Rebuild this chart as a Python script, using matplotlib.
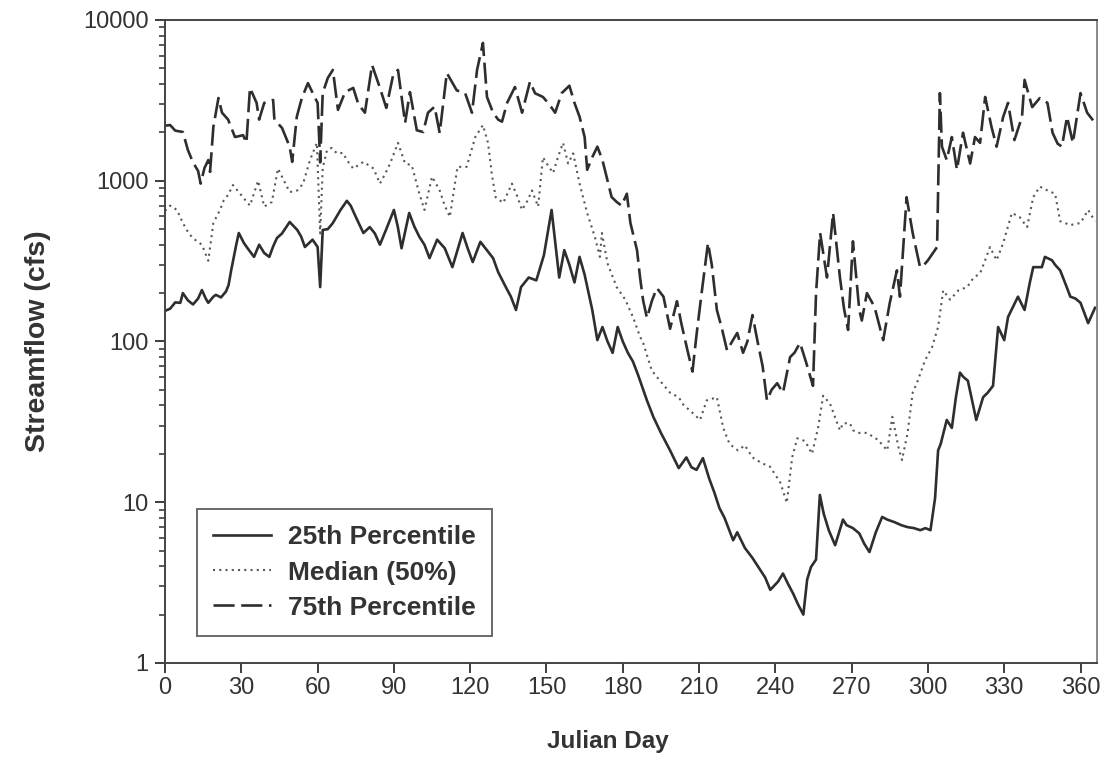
import numpy as np
import matplotlib
matplotlib.use("Agg")
import matplotlib.pyplot as plt
from matplotlib.ticker import FixedLocator, LogLocator, NullFormatter, FuncFormatter

# daily streamflow percentiles (cfs) by Julian day
days_p25 = [0, 2, 4, 6, 7, 9, 11, 13, 14.5, 16, 17, 19, 20, 22, 24, 25, 26, 28, 29, 31,
            33, 35, 37, 39, 41, 42.5, 44, 46, 49, 52, 53.5, 55, 58, 60, 61, 62, 64, 66, 69, 71.5,
            73, 75, 78, 80.5, 82.5, 84.5, 87, 90, 91.5, 93, 96, 98, 100, 102, 104, 107, 110, 113, 117, 119,
            121, 124, 126, 129, 131, 134, 136, 138, 140, 143, 146, 149, 152, 155, 157, 159, 161, 163, 165, 168,
            170, 172, 174, 176, 178, 180, 182, 184, 186, 189.5, 192, 195, 198.6, 202, 205, 207, 209, 211.5, 214, 216,
            218, 220, 223.4, 225, 228, 231, 234, 236, 238, 241, 243, 245, 247, 249, 251, 252.5, 254, 256, 257.5, 259,
            261, 263.5, 266.6, 268, 270.5, 273, 275, 277, 279.5, 282, 284, 287, 289.5, 292, 294.5, 297, 299, 301, 302.8, 304,
            305, 307.4, 309.4, 311, 312.6, 314, 315.7, 317.5, 319, 321.7, 323.5, 325.6, 327.6, 330, 331.5, 333.5, 335.4, 338, 340, 341.4,
            344.8, 346, 348.8, 350, 352, 354, 356, 358, 360, 363, 365.7]
p25 = [155, 160, 175, 174, 200, 180, 170, 185, 209, 185, 174, 190, 195, 188, 205, 225, 277, 400, 473, 410,
       370, 336, 400, 355, 336, 390, 440, 470, 554, 494, 450, 387, 430, 387, 218, 494, 500, 546, 658, 750,
       700, 596, 473, 515, 470, 400, 500, 658, 520, 380, 630, 520, 448, 400, 330, 430, 380, 290, 473, 380,
       312, 417, 380, 330, 270, 218, 190, 157, 218, 250, 240, 345, 658, 250, 370, 300, 233, 336, 260, 157,
       102, 123, 100, 85, 123, 100, 85, 75, 62, 43, 34, 27, 21, 16.3, 19, 16.5, 15.9, 18.8, 14, 11.5,
       9.2, 8, 5.8, 6.5, 5.2, 4.5, 3.8, 3.4, 2.85, 3.2, 3.6, 3.1, 2.7, 2.3, 2.0, 3.3, 3.95, 4.4, 11.1, 8.5,
       6.7, 5.4, 7.8, 7.2, 6.9, 6.4, 5.5, 4.9, 6.5, 8.1, 7.8, 7.5, 7.2, 7.0, 6.9, 6.7, 6.9, 6.7, 10.6, 21,
       23, 32.5, 29, 45, 64, 60, 57, 42, 32.5, 45, 48, 53, 123, 102, 142, 165, 190, 157, 230, 290,
       290, 336, 320, 300, 277, 230, 190, 185, 174, 130, 162]

days_p50 = [0, 2, 4.7, 7, 9, 10.5, 12.5, 14.5, 17, 19, 21.6, 23, 24.8, 26.7, 29.5, 31.5, 33.4, 36.6, 39, 42,
            44.4, 46, 49, 52, 54.3, 57, 59.7, 61, 62, 63.7, 65.5, 67.6, 70, 71.5, 74, 76, 78, 80, 82, 84.5,
            86.5, 88.5, 91.6, 94.4, 97, 100, 102, 105, 108, 110, 112, 115, 118.6, 122, 125, 127, 128.5, 130, 133, 136.4,
            138.5, 140.4, 142.5, 144.3, 146.7, 148.6, 150.5, 152.6, 154.5, 156.5, 158.5, 160.5, 163, 166, 169, 171, 171.8, 174, 177.6, 181,
            184, 186.8, 188, 191.4, 194.6, 198.6, 202, 204, 206.6, 210.4, 213, 217, 219.5, 222, 225.3, 228, 231, 234.7, 238, 242,
            244.5, 246.6, 248.6, 251.7, 254.4, 256.8, 258.8, 261.5, 265.4, 266.6, 269.3, 270.6, 272.5, 276, 280.4, 284, 286, 288.4, 289.8, 292,
            294, 296, 298.8, 301.6, 304, 306, 308.7, 312, 315.4, 318, 320.5, 322.5, 324.4, 327, 329.6, 333, 336, 339, 341.4, 344,
            347, 350, 352, 356, 360, 363, 365.7]
p50 = [650, 700, 658, 546, 480, 448, 420, 400, 318, 546, 658, 750, 817, 940, 830, 760, 700, 1000, 690, 738,
       1190, 1060, 850, 870, 960, 1345, 1720, 470, 1200, 1550, 1600, 1480, 1490, 1345, 1190, 1250, 1310, 1250, 1190, 960,
       1100, 1280, 1720, 1280, 1250, 830, 658, 1060, 870, 700, 596, 1220, 1220, 1870, 2220, 1720, 1100, 790, 728, 960,
       800, 658, 750, 870, 690, 1400, 1250, 1117, 1400, 1720, 1280, 1480, 960, 630, 448, 336, 473, 306, 218, 182,
       142, 107, 98, 66, 57, 48, 45, 40, 37, 32.5, 43, 45, 29, 23, 21, 22.6, 19, 17.5, 16.6, 13.2,
       9.9, 19, 25, 24, 20, 29, 46, 41, 28, 31, 31, 28, 27, 27, 24.4, 21, 34, 22, 18.3, 27,
       48, 57, 76, 92, 123, 208, 182, 208, 218, 250, 265, 320, 387, 320, 410, 630, 596, 515, 790, 920,
       870, 830, 560, 530, 546, 658, 560]

days_p75 = [0, 2, 4, 7, 9, 11, 13, 14, 15.5, 17, 17.7, 19, 21, 22.4, 24.8, 27.5, 30.7, 32, 33.4, 36,
            37, 39, 42.5, 43, 46, 49, 50, 51.8, 53.8, 56.2, 59, 60, 61, 62, 64, 66, 68, 70.8, 74, 76,
            78.6, 81.4, 84.5, 87, 89.7, 91.6, 94.4, 96.3, 99, 101.5, 103.4, 106, 108, 110.8, 114.7, 118, 120.7, 122.7, 125, 126.6,
            129, 131, 132.5, 134.5, 137.6, 140.4, 143.5, 145.5, 148.6, 151, 153.4, 156, 159, 161, 163, 165, 166, 168, 170, 172,
            174, 175.6, 177.6, 179.5, 181.6, 183, 185.6, 186.8, 188, 189.5, 191.5, 193.4, 196, 198.6, 201.3, 203, 205.3, 207.4, 209, 211,
            213.5, 215, 217, 219, 221, 223, 225, 227.3, 229, 231, 233, 235, 236.7, 238.5, 240.7, 243, 245.8, 247.5, 249.7, 252,
            254.8, 256, 257.6, 260.3, 262.7, 265.4, 267, 268.6, 270.5, 273, 274, 276, 279, 282.4, 285, 287.8, 289, 291.6, 294, 296.9,
            298.5, 300, 303.6, 304.7, 305.5, 307.4, 309.4, 311.4, 313.8, 316.6, 318.5, 320.5, 322.5, 325, 327, 329.6, 331.5, 334, 337, 338,
            341, 344, 347, 349, 351, 352.7, 354.7, 357, 360, 362.6, 365.7]
p75 = [2200, 2220, 2050, 2010, 1550, 1300, 1150, 960, 1200, 1345, 1135, 2160, 3270, 2650, 2400, 1870, 1920, 1720, 3780, 3050,
       2400, 3050, 3180, 2400, 2130, 1630, 1310, 2500, 3270, 4050, 3270, 3050, 1300, 3510, 4360, 4890, 2760, 3560, 3780, 3000,
       2650, 5250, 3780, 2840, 4550, 4890, 2290, 3560, 2060, 2010, 2650, 2890, 1980, 4680, 3650, 3510, 2650, 4890, 7200, 3320,
       2650, 2400, 2330, 3050, 3830, 2650, 4130, 3500, 3320, 3000, 2650, 3510, 3900, 3050, 2500, 1870, 1170, 1400, 1630, 1345,
       1000, 792, 738, 700, 830, 546, 370, 250, 180, 140, 180, 215, 190, 120, 178, 130, 90, 65, 110, 200,
       410, 300, 157, 120, 88, 100, 113, 85, 100, 146, 100, 70, 43, 50, 55, 48, 80, 85, 98, 75,
       53, 200, 473, 250, 630, 250, 160, 118, 420, 157, 135, 200, 164, 102, 174, 277, 190, 790, 473, 290,
       300, 320, 387, 3510, 1630, 1345, 1870, 1170, 1990, 1280, 1870, 1720, 3320, 2160, 1630, 2500, 3050, 1790, 2500, 4240,
       2870, 3270, 3050, 1990, 1700, 1630, 2500, 1720, 3510, 2650, 2290]

y_ticks = [1, 10, 100, 1000, 10000]
x_ticks = list(range(0, 361, 30))

plt.rcParams['font.family'] = ['Liberation Sans', 'DejaVu Sans']
ink = '#2e2e2e'

fig = plt.figure(figsize=(11.04, 7.66), dpi=100)
ax = fig.add_axes([0.1495, 0.1345, 0.8442, 0.8394])

ax.plot(days_p25, p25, color=ink, lw=1.9, solid_joinstyle='round', label='25th Percentile')
ax.plot(days_p50, p50, color='#585858', lw=1.5, linestyle=(0, (1, 2.0)), label='Median (50%)')
ax.plot(days_p75, p75, color=ink, lw=1.9, dashes=(8, 2.5), label='75th Percentile')

ax.set_yscale('log')
ax.set_ylim(1, 10000)
ax.set_xlim(0, 366.5)

ax.yaxis.set_major_locator(FixedLocator(y_ticks))
ax.yaxis.set_major_formatter(FuncFormatter(lambda v, _: '%d' % round(v)))
ax.yaxis.set_minor_locator(LogLocator(base=10, subs=np.arange(2, 10)))
ax.yaxis.set_minor_formatter(NullFormatter())
ax.xaxis.set_major_locator(FixedLocator(x_ticks))

ax.tick_params(axis='both', which='major', direction='out', length=7, width=1.3,
               color=ink, labelsize=17, labelcolor='#333333', pad=5)
ax.tick_params(axis='x', which='major', pad=3)
ax.tick_params(axis='y', which='minor', direction='out', length=4, width=1.1, color=ink)
for side in ('left', 'bottom', 'top', 'right'):
    ax.spines[side].set_color('#444444')
    ax.spines[side].set_linewidth(1.4)
ax.spines['right'].set_color('#888888')

ax.set_xlabel('Julian Day', fontsize=17.5, fontweight='bold', color='#333333')
ax.set_ylabel('Streamflow (cfs)', fontsize=20.5, fontweight='bold', color='#333333')
ax.xaxis.set_label_coords(0.475, -0.105)
ax.yaxis.set_label_coords(-0.122, 0.5)

leg = ax.legend(loc='lower left', bbox_to_anchor=(0.034, 0.042), borderaxespad=0,
                fancybox=False, frameon=True, handlelength=2.2, handletextpad=0.65,
                labelspacing=0.42, borderpad=0.62,
                prop={'size': 19, 'weight': 'bold'})
leg.get_frame().set_edgecolor('#444444')
leg.get_frame().set_linewidth(1.4)
for t in leg.get_texts():
    t.set_color('#333333')

fig.savefig('out.png', dpi=100, facecolor='white')
